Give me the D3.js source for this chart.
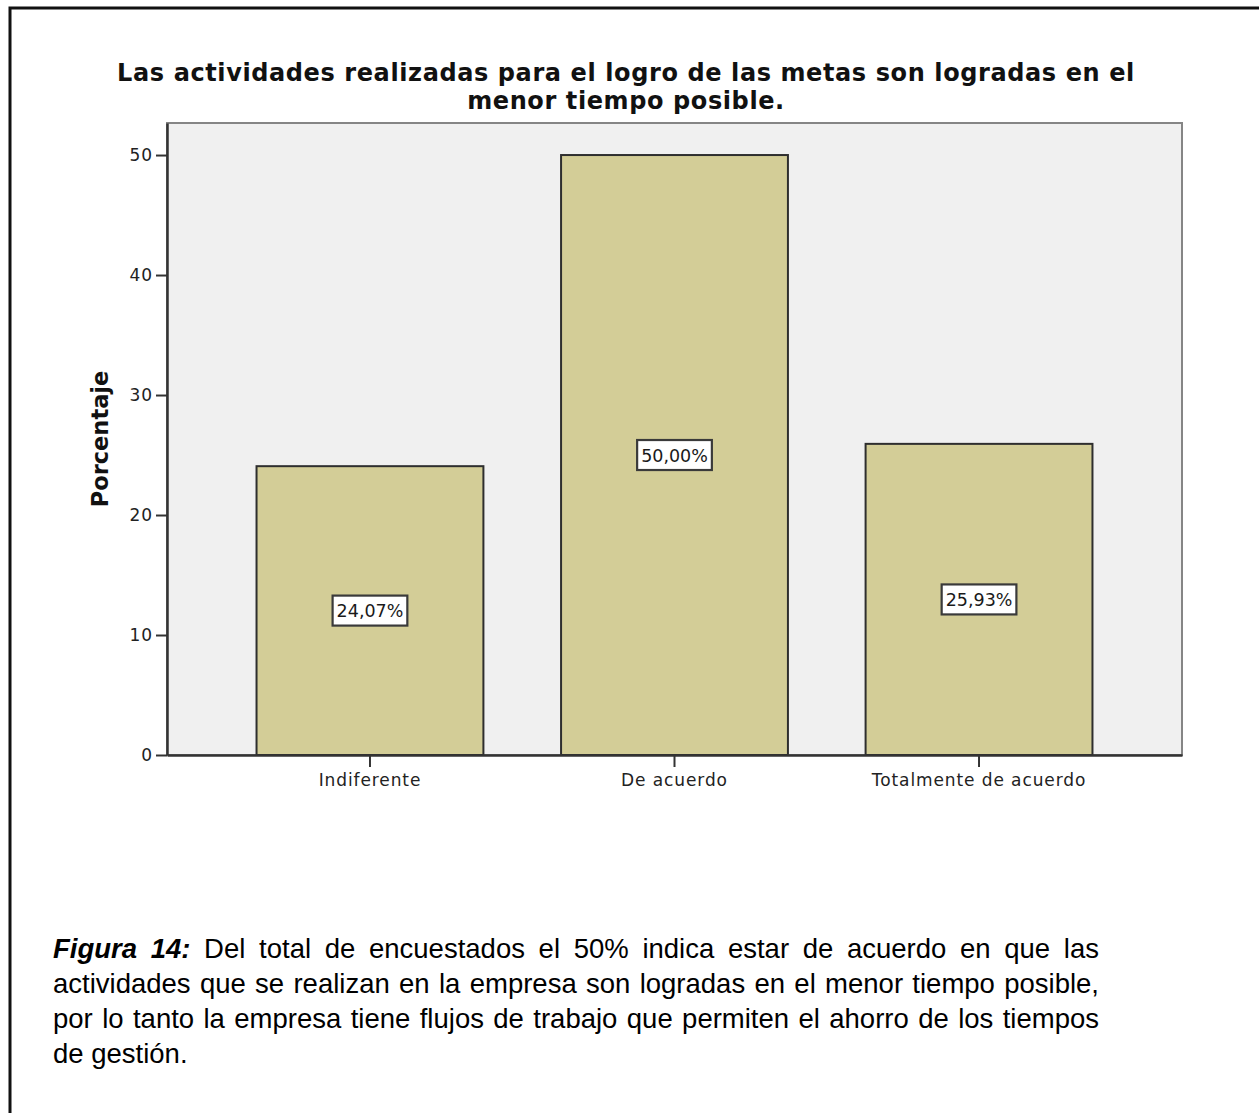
<!DOCTYPE html>
<html>
<head>
<meta charset="utf-8">
<script src="https://cdn.jsdelivr.net/npm/d3@7"></script>
<style>
  html, body { margin: 0; padding: 0; background: #fff; }
  svg { display: block; }
</style>
</head>
<body>
<svg id="chart" width="1259" height="1113"></svg>
<script>
// Survey answers and their share of respondents (%)
const categories = ["Indiferente", "De acuerdo", "Totalmente de acuerdo"];
const percentages = [24.07, 50.00, 25.93];
const yTicks = [0, 10, 20, 30, 40, 50];
const titleLines = [
  "Las actividades realizadas para el logro de las metas son logradas en el",
  "menor tiempo posible."
];
const yTitle = "Porcentaje";
const captionLead = "Figura 14:";
const captionLines = [
  " Del total de encuestados el 50% indica estar de acuerdo en que las",
  "actividades que se realizan en la empresa son logradas en el menor tiempo posible,",
  "por lo tanto la empresa tiene flujos de trabajo que permiten el ahorro de los tiempos",
  "de gestión."
];

const svg = d3.select("#chart");
const W = 1259, H = 1113;

// Outer frame (its right and bottom sides run off the page)
svg.append("rect")
  .attr("x", 10).attr("y", 8)
  .attr("width", W + 20).attr("height", H + 20)
  .attr("fill", "none").attr("stroke", "#111").attr("stroke-width", 3);

const plot = { left: 167, top: 123, right: 1182, bottom: 755 };

const x = d3.scaleBand()
  .domain(categories)
  .range([plot.left, plot.right])
  .paddingInner(0.255)
  .paddingOuter(0.294);

const y = d3.scaleLinear()
  .domain([0, 52.67])
  .range([plot.bottom, plot.top]);

const chartFont = "'DejaVu Sans', Verdana, sans-serif";

// Plot background
svg.append("rect")
  .attr("x", plot.left).attr("y", plot.top)
  .attr("width", plot.right - plot.left).attr("height", plot.bottom - plot.top)
  .attr("fill", "#f0f0f0").attr("stroke", "#858585").attr("stroke-width", 2);

// Bars
svg.append("g").selectAll("rect")
  .data(categories)
  .join("rect")
  .attr("x", d => x(d))
  .attr("y", (d, i) => y(percentages[i]))
  .attr("width", x.bandwidth())
  .attr("height", (d, i) => y(0) - y(percentages[i]))
  .attr("fill", "#d3cd97")
  .attr("stroke", "#2e2e2e")
  .attr("stroke-width", 2);

// Y axis
const yAxis = svg.append("g")
  .attr("transform", `translate(${plot.left},0)`)
  .call(d3.axisLeft(y).tickValues(yTicks).tickSize(11).tickSizeOuter(0).tickPadding(3).tickFormat(d3.format("d")));
yAxis.select(".domain").attr("stroke", "#333").attr("stroke-width", 2.5);
yAxis.selectAll(".tick line").attr("stroke", "#333").attr("stroke-width", 2);
yAxis.selectAll(".tick text")
  .attr("fill", "#222")
  .style("font-family", chartFont).style("font-size", "17px").style("letter-spacing", "0.9px");

// X axis
const xAxis = svg.append("g")
  .attr("transform", `translate(0,${plot.bottom})`)
  .call(d3.axisBottom(x).tickSize(12).tickPadding(7).tickSizeOuter(0));
xAxis.select(".domain").attr("stroke", "#333").attr("stroke-width", 2.5);
xAxis.selectAll(".tick line").attr("stroke", "#333").attr("stroke-width", 2);
xAxis.selectAll(".tick text")
  .attr("fill", "#222")
  .style("font-family", chartFont).style("font-size", "17px").style("letter-spacing", "0.9px");

// Value labels in boxes at mid-height of each bar
const fmt = v => d3.format(".2f")(v).replace(".", ",") + "%";
const labels = svg.append("g").selectAll("g")
  .data(categories)
  .join("g")
  .attr("transform", (d, i) => `translate(${x(d) + x.bandwidth() / 2},${y(percentages[i] / 2)})`);
labels.append("text")
  .attr("text-anchor", "middle")
  .attr("dy", "0.37em")
  .attr("fill", "#1a1a1a")
  .style("font-family", chartFont).style("font-size", "17.5px")
  .text((d, i) => fmt(percentages[i]));
labels.each(function () {
  const g = d3.select(this);
  const bb = g.select("text").node().getBBox();
  g.insert("rect", "text")
    .attr("x", bb.x - 4).attr("y", -15)
    .attr("width", bb.width + 8).attr("height", 30)
    .attr("fill", "#fff").attr("stroke", "#3a3a3a").attr("stroke-width", 2.2);
});

// Title (two centred lines)
svg.append("g").selectAll("text")
  .data(titleLines)
  .join("text")
  .attr("x", 626)
  .attr("y", (d, i) => 81 + i * 28)
  .attr("text-anchor", "middle")
  .attr("fill", "#111")
  .style("font-family", chartFont).style("font-size", "24px").style("font-weight", "bold")
  .style("letter-spacing", "0.6px")
  .text(d => d);

// Y axis title
svg.append("text")
  .attr("transform", `translate(108,${(plot.top + plot.bottom) / 2}) rotate(-90)`)
  .attr("text-anchor", "middle")
  .attr("fill", "#111")
  .style("font-family", chartFont).style("font-size", "22.5px").style("font-weight", "bold")
  .text(yTitle);

// Justified caption below the chart
const capLeft = 53, capRight = 1099, capTop = 958, capStep = 35;
const capFont = "'Liberation Sans', Arial, sans-serif";
captionLines.forEach((line, i) => {
  const t = svg.append("text")
    .attr("x", capLeft).attr("y", capTop + i * capStep)
    .attr("fill", "#000")
    .style("font-family", capFont).style("font-size", "27.5px");
  if (i === 0) {
    t.append("tspan").style("font-weight", "bold").style("font-style", "italic").text(captionLead);
  }
  t.append("tspan").text(line);
  if (i < captionLines.length - 1) {
    const natural = t.node().getComputedTextLength();
    const gaps = (i === 0 ? (captionLead + line) : line).trim().split(/\s+/).length - 1;
    const extra = (capRight - capLeft - natural) / gaps;
    t.style("word-spacing", extra + "px");
  }
});
</script>
</body>
</html>
